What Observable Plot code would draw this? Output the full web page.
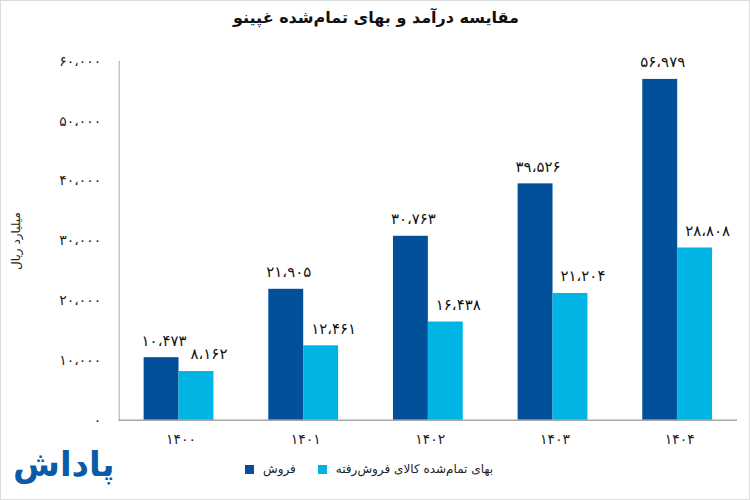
<!DOCTYPE html>
<html>
<head>
<meta charset="utf-8">
<script src="https://cdn.jsdelivr.net/npm/d3@7"></script>
<script src="https://cdn.jsdelivr.net/npm/@observablehq/plot@0.6"></script>
<style>
  html, body { margin: 0; padding: 0; background: #fff; }
  #wrap { position: relative; width: 750px; height: 500px; box-sizing: border-box; border: 1px solid #dcdcdc; overflow: hidden; font-family: "DejaVu Sans", sans-serif; }
  #chart { position: absolute; left: 0; top: 0; }
  #chart svg text { letter-spacing: 3px; }
  #title { position: absolute; top: 7px; left: 0; width: 750px; text-align: center; font-size: 16px; font-weight: bold; color: #111; direction: rtl; }
  #ylabel { position: absolute; left: 15px; top: 240px; transform: translate(-50%, -50%) rotate(-90deg); font-size: 12px; color: #222; white-space: nowrap; direction: rtl; }
  #legend { position: absolute; top: 461px; left: 244px; display: flex; align-items: center; font-size: 12px; color: #222; direction: ltr; }
  .sw { width: 9px; height: 9px; display: inline-block; margin-right: 9px; }
  .item { display: flex; align-items: center; margin-right: 22px; }
  .item span.t { direction: rtl; }
  #logo { position: absolute; left: 12px; top: 443px; font-size: 34px; font-weight: bold; color: #0b5aa8; direction: rtl; }
</style>
</head>
<body>
<div id="wrap">
  <div id="chart"></div>
  <div id="title"></div>
  <div id="ylabel"></div>
  <div id="legend"></div>
  <div id="logo">پاداش</div>
</div>
<script>
const titleText = "مقایسه درآمد و بهای تمام‌شده غپینو";
const yLabel = "میلیارد ریال";
const years = [1400, 1401, 1402, 1403, 1404];
const seriesNames = ["فروش", "بهای تمام‌شده کالای فروش‌رفته"];
const sales = [10473, 21905, 30763, 39526, 56979];
const cogs = [8162, 12461, 16438, 21204, 28808];
const yTicks = [0, 10000, 20000, 30000, 40000, 50000, 60000];
const colors = ["#024f9a", "#00b5e4"];

const faDigits = "۰۱۲۳۴۵۶۷۸۹";
function fa(n) {
  return d3.format(",")(n).replace(/,/g, "،").replace(/[0-9]/g, d => faDigits[+d]);
}
function faYear(n) {
  return String(n).replace(/[0-9]/g, d => faDigits[+d]);
}

const salesData = years.map((y, i) => ({year: y, value: sales[i]}));
const cogsData = years.map((y, i) => ({year: y, value: cogs[i]}));

document.getElementById("title").textContent = titleText;
document.getElementById("ylabel").textContent = yLabel;
const legend = document.getElementById("legend");
seriesNames.forEach((name, i) => {
  const it = document.createElement("div");
  it.className = "item";
  it.innerHTML = `<span class="sw" style="background:${colors[i]}"></span><span class="t">${name}</span>`;
  legend.appendChild(it);
});

const textStyle = {fontSize: 15, fill: "#111"};

const chart = Plot.plot({
  width: 750,
  height: 500,
  marginLeft: 118,
  marginRight: 12,
  marginTop: 60,
  marginBottom: 80,
  style: {fontFamily: "DejaVu Sans, sans-serif", fontSize: "13px", color: "#222", background: "transparent"},
  x: {domain: years, paddingInner: 0.44, paddingOuter: 0.2, label: null},
  y: {domain: [0, 60000], label: null},
  marks: [
    Plot.axisY({ticks: yTicks, tickSize: 0, tickPadding: 18, tickFormat: fa, label: null, fontSize: 14}),
    Plot.axisX({tickSize: 0, tickPadding: 14, tickFormat: faYear, label: null, fontSize: 14, dx: 2}),
    Plot.barY(salesData, {x: "year", y: "value", fill: colors[0], insetRight: 35}),
    Plot.barY(cogsData, {x: "year", y: "value", fill: colors[1], insetLeft: 35}),
    Plot.text(salesData, {x: "year", y: "value", text: d => fa(d.value), dx: -15, dy: -17, ...textStyle}),
    Plot.text(cogsData, {x: "year", y: "value", text: d => fa(d.value), dx: 30, dy: -17, ...textStyle}),
    Plot.frame({anchor: "left", stroke: "#a8a8a8"}),
    Plot.ruleY([0], {stroke: "#a8a8a8", strokeWidth: 1.5})
  ]
});
document.getElementById("chart").appendChild(chart);
</script>
</body>
</html>
